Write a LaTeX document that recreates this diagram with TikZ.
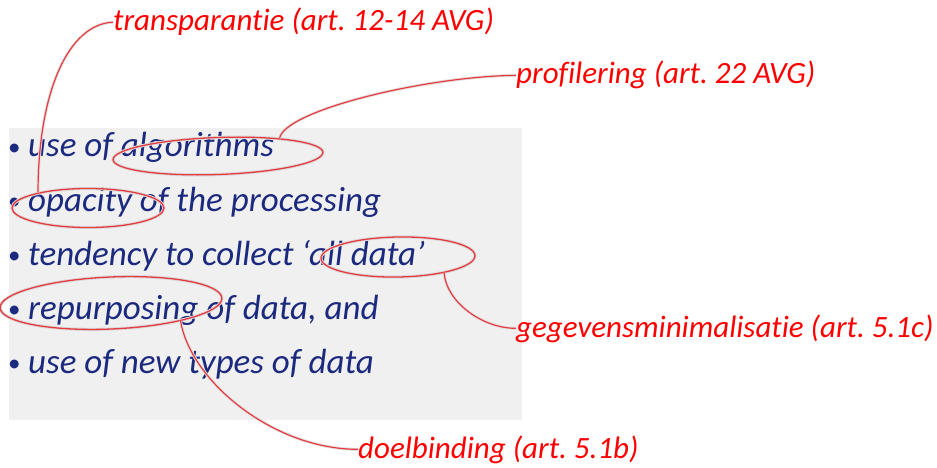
\documentclass[tikz,border=0pt]{standalone}
\usepackage{fontspec}
\setmainfont[Ligatures=NoCommon]{Carlito}
\usetikzlibrary{shapes.geometric}
\definecolor{navy}{HTML}{1B2A7E}
\definecolor{boxgray}{HTML}{F0F0F0}
\definecolor{lred}{HTML}{FF0000}
\definecolor{ered}{HTML}{E83A3F}
\newcommand{\bul}{\raisebox{1.5pt}{\fontsize{25}{25}\selectfont\upshape •}\hspace{7.5pt}}
\tikzset{
  bullet/.style={anchor=base west, inner sep=0pt, text=navy, font=\fontsize{35}{35}\selectfont\itshape\frenchspacing},
  lab/.style={anchor=base west, inner sep=0pt, text=lred, font=\fontsize{31}{31}\selectfont\itshape\frenchspacing},
  ring/.style={ellipse, draw=ered, line width=1.3pt, inner sep=0pt,
    preaction={draw=black!15, line width=3.2pt}},
  conn/.style={draw=ered, line width=1.2pt, preaction={draw=black!12, line width=3pt}},
}
\begin{document}
\begin{tikzpicture}[x=1pt,y=-1pt]
\useasboundingbox (0,0) rectangle (937,468);
\fill[boxgray] (9,128) rectangle (522,420);
% bullet lines
\node[bullet] (b1) at (8,157) {\bul use of algorithms};
\node[bullet] (b2) at (8,211) {\bul opacity of the processing};
\node[bullet] (b3) at (8,265) {\bul tendency to collect ‘all data’};
\node[bullet] (b4) at (8,319) {\bul repurposing of data, and};
\node[bullet] (b5) at (8,373) {\bul use of new types of data};
% labels
\node[lab] (l1) at (113,31) {transparantie (art. 12-14 AVG)};
\node[lab] (l2) at (516,84) {profilering (art. 22 AVG)};
\node[lab] (l3) at (516,337) {gegevensminimalisatie (art. 5.1c)};
\node[lab] (l4) at (358,458) {doelbinding (art. 5.1b)};
% ellipses
\node[ring, minimum width=210pt, minimum height=37pt, rotate=2] (e1) at (218,156) {};
\node[ring, minimum width=152pt, minimum height=39pt] (e2) at (88,208) {};
\node[ring, minimum width=154pt, minimum height=40pt, rotate=1] (e3) at (398,257) {};
\node[ring, minimum width=222pt, minimum height=52pt, rotate=2.5] (e4) at (111,303) {};
% connectors
\draw[conn] (l1.west) .. controls +(-45,2) and +(0,-100) .. (e2.163);
\draw[conn] (l2.west) .. controls +(-90,1) and +(5,-28) .. (e1.14);
\draw[conn] (e3.-20) .. controls +(2,28) and +(-35,0) .. (l3.west);
\draw[conn] (e4.-17) .. controls +(10,60) and +(-85,0) .. (l4.west);
\end{tikzpicture}
\end{document}
